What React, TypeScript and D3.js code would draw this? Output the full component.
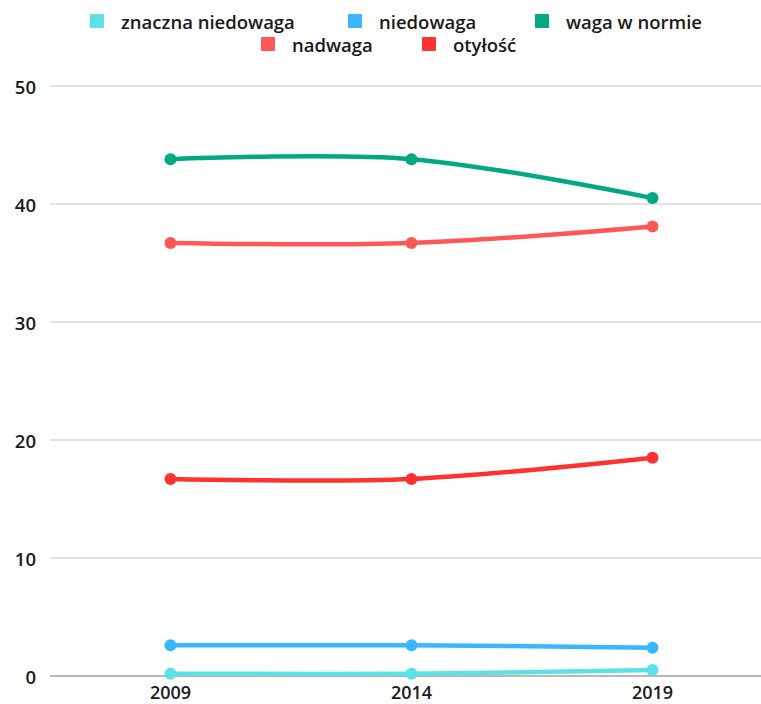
import React from "react";
import * as d3 from "d3";

const years = ["2009", "2014", "2019"];
const seriesNames = ["znaczna niedowaga", "niedowaga", "waga w normie", "nadwaga", "otyłość"];
const znacznaNiedowaga = [0.2, 0.2, 0.5];
const niedowaga = [2.6, 2.6, 2.4];
const wagaWNormie = [43.8, 43.8, 40.5];
const nadwaga = [36.7, 36.7, 38.1];
const otylosc = [16.7, 16.7, 18.5];
const yTicks = [0, 10, 20, 30, 40, 50];

const colors = ["#5ce1e6", "#38b6ff", "#00a884", "#ff5757", "#ff3131"];
const seriesValues = [znacznaNiedowaga, niedowaga, wagaWNormie, nadwaga, otylosc];

// legend layout (x of box, row)
const legendLayout = [
  { x: 90, row: 0 },
  { x: 348, row: 0 },
  { x: 535, row: 0 },
  { x: 261, row: 1 },
  { x: 422, row: 1 },
];

const W = 761;
const H = 704;
const FONT = "'Open Sans', 'Noto Sans', sans-serif";

export default function App() {
  const x = d3.scalePoint<string>().domain(years).range([50, 773]).padding(0.5);
  const y = d3.scaleLinear().domain([0, 50]).range([676, 86]);
  const line = d3
    .line<number>()
    .x((_, i) => x(years[i]) as number)
    .y((d) => y(d))
    .curve(d3.curveCatmullRom.alpha(0.5));

  const drawOrder = [4, 3, 2, 1, 0];

  return (
    <svg
      width={W}
      height={H}
      style={{ position: "absolute", left: 0, top: 0, background: "#fff" }}
      fontFamily={FONT}
    >
      {yTicks.map((t) => (
        <g key={t}>
          <line
            x1={50}
            x2={W}
            y1={y(t)}
            y2={y(t)}
            stroke={t === 0 ? "#a0a0a0" : "#d9d9d9"}
            strokeWidth={1.5}
          />
          <text
            x={36}
            y={y(t)}
            textAnchor="end"
            dominantBaseline="central"
            fontSize={18.5}
            fontWeight={600}
            fill="#1a1a1a"
          >
            {t}
          </text>
        </g>
      ))}
      {years.map((yr) => (
        <text
          key={yr}
          x={x(yr)}
          y={699}
          textAnchor="middle"
          fontSize={18}
          fontWeight={600}
          fill="#1a1a1a"
        >
          {yr}
        </text>
      ))}
      {drawOrder.map((si) => (
        <g key={seriesNames[si]}>
          <path
            d={line(seriesValues[si]) || ""}
            fill="none"
            stroke={colors[si]}
            strokeWidth={4.5}
            strokeLinecap="round"
          />
          {seriesValues[si].map((v, i) => (
            <circle key={i} cx={x(years[i])} cy={y(v)} r={6} fill={colors[si]} />
          ))}
        </g>
      ))}
      {seriesNames.map((name, i) => {
        const l = legendLayout[i];
        const cy = l.row === 0 ? 21 : 44;
        return (
          <g key={name}>
            <rect x={l.x} y={cy - 7} width={14} height={14} fill={colors[i]} rx={1} />
            <text
              x={l.x + 31}
              y={cy}
              dominantBaseline="central"
              fontSize={18.5}
              fontWeight={600}
              fill="#1a1a1a"
            >
              {name}
            </text>
          </g>
        );
      })}
    </svg>
  );
}
